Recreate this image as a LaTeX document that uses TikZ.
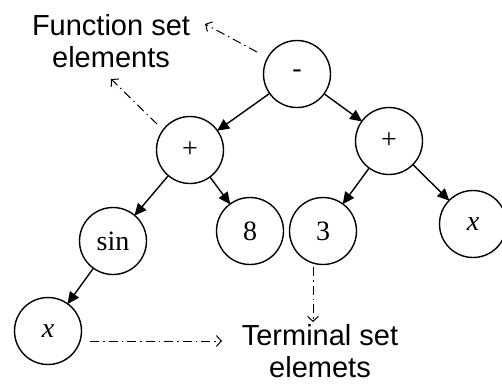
\documentclass[tikz,border=0pt]{standalone}
\usepackage{fontspec}
\setmainfont{Liberation Serif}
\newfontfamily\labelfont{Liberation Sans}
\usetikzlibrary{arrows.meta}
\begin{document}
\begin{tikzpicture}[x=1pt,y=-1pt,
  tnode/.style={circle,draw,line width=1.4pt,minimum size=67pt,inner sep=0pt,
    font=\fontsize{28}{32}\selectfont},
  arc/.style={line width=1.4pt,-{Triangle[length=12pt,width=11pt]},shorten >=-1pt},
  ann/.style={line width=1pt,dash pattern=on 9pt off 4pt on 1.5pt off 4pt,
    -{Straight Barb[length=5pt,width=11pt]}},
  lbl/.style={align=center,font=\labelfont\fontsize{29}{32}\selectfont,inner sep=0pt}]
\useasboundingbox (0,0) rectangle (502,384);
\node[tnode] (root) at (297,74) {-};
\node[tnode] (lp) at (190,150) {+};
\node[tnode] (rp) at (389,141) {+};
\node[tnode] (sin) at (113,241) {sin};
\node[tnode] (eight) at (250,231) {8};
\node[tnode] (three) at (323,231) {3};
\node[tnode] (xr) at (473,224) {\textit{x}};
\node[tnode] (xb) at (48,331) {\textit{x}};
\draw[arc] (root) -- (lp);
\draw[arc] (root) -- (rp);
\draw[arc] (lp) -- (sin);
\draw[arc] (lp) -- (eight);
\draw[arc] (rp) -- (three);
\draw[arc] (rp) -- (xr);
\draw[arc] (sin) -- (xb);
\node[lbl] (fse) at (111,41) {Function set\\elements};
\node[lbl] (tse) at (320,351) {Terminal set\\elemets};
\coordinate (a1s) at (257,52);
\coordinate (a1e) at (205,24);
\coordinate (a2s) at (157,124);
\coordinate (a2e) at (111,79);
\coordinate (a3s) at (90,341);
\coordinate (a3e) at (222,341);
\coordinate (a4s) at (313,267);
\coordinate (a4e) at (313,322);
\draw[ann] (a1s) -- (a1e);
\draw[ann] (a2s) -- (a2e);
\draw[ann] (a3s) -- (a3e);
\draw[ann] (a4s) -- (a4e);
\end{tikzpicture}
\end{document}
